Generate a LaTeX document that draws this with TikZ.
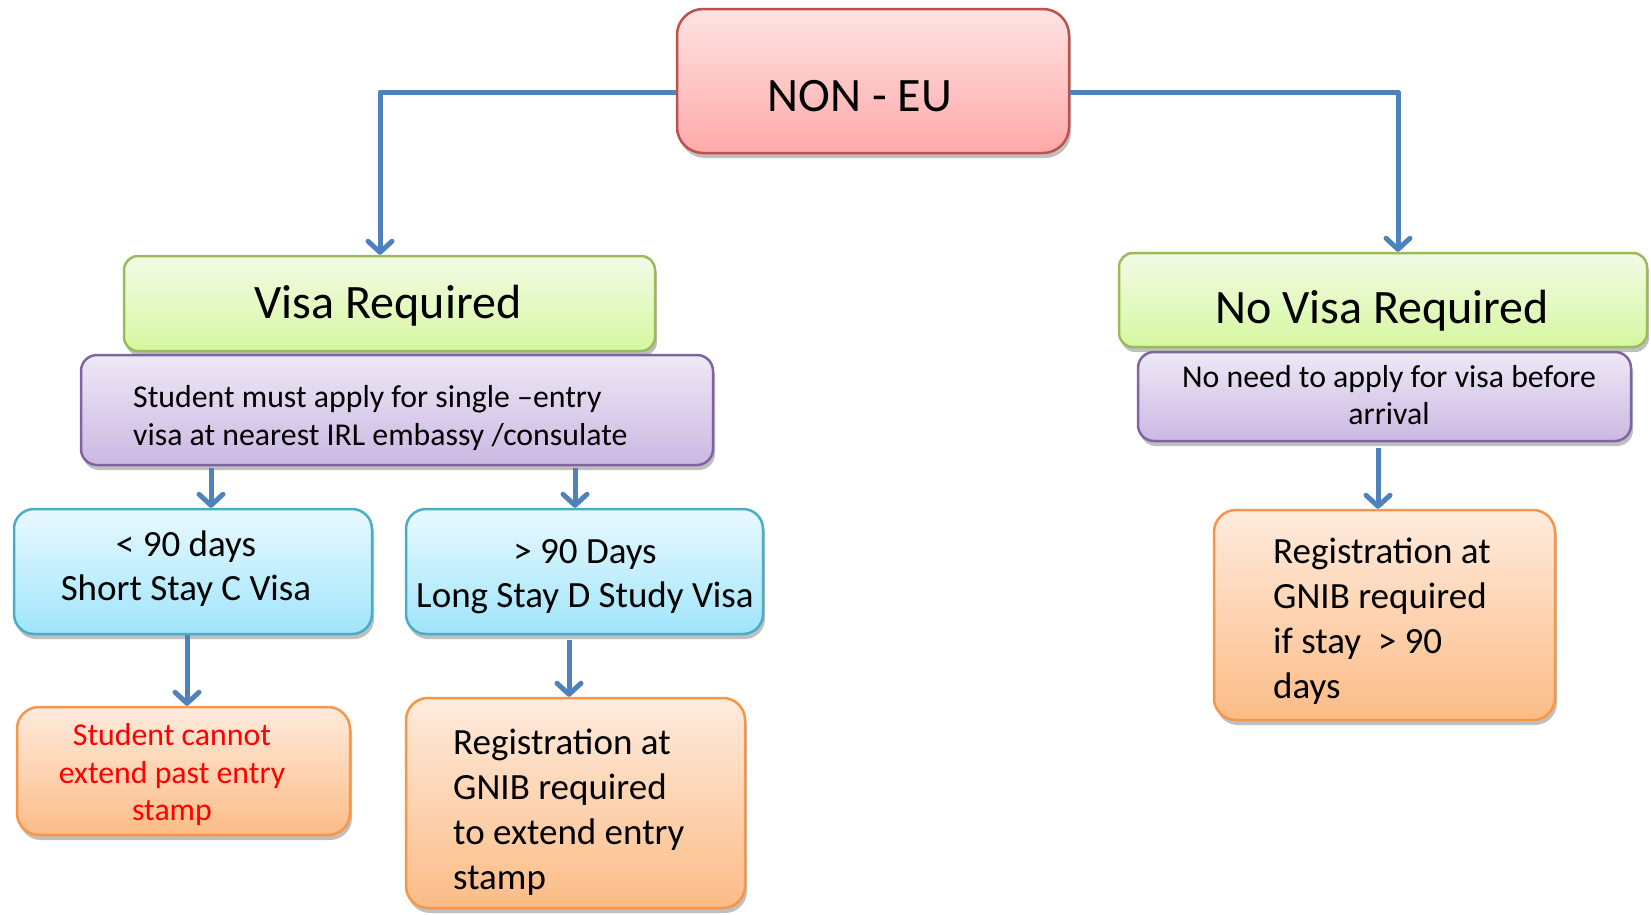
\documentclass[tikz,border=0pt]{standalone}
\usepackage{fontspec}
\setmainfont{Carlito}
\usetikzlibrary{arrows.meta,shadows}
\definecolor{arrowblue}{HTML}{4F81BD}
\definecolor{redB}{HTML}{C0504D}\definecolor{redT}{HTML}{FFE3E3}\definecolor{redD}{HTML}{FFA9A9}
\definecolor{grnB}{HTML}{9BBB59}\definecolor{grnT}{HTML}{F2FBE6}\definecolor{grnD}{HTML}{D6F7A0}
\definecolor{purB}{HTML}{8064A2}\definecolor{purT}{HTML}{EEE8F6}\definecolor{purD}{HTML}{CBB8E2}
\definecolor{bluB}{HTML}{4BACC6}\definecolor{bluT}{HTML}{E8F9FF}\definecolor{bluD}{HTML}{A0E5FB}
\definecolor{orgB}{HTML}{F79646}\definecolor{orgT}{HTML}{FFEBDD}\definecolor{orgD}{HTML}{FBBC86}
\begin{document}
\begin{tikzpicture}[x=1pt,y=-1pt,
  box/.style={rectangle, rounded corners=18pt, line width=2.5pt, inner sep=0pt,
    drop shadow={shadow xshift=2pt,shadow yshift=-5pt,opacity=0.25,fill=black}},
  redbox/.style={box, draw=redB, top color=redT, bottom color=redD, rounded corners=26pt},
  grnbox/.style={box, draw=grnB, top color=grnT, bottom color=grnD, rounded corners=14pt},
  purbox/.style={box, draw=purB, top color=purT, bottom color=purD, rounded corners=16pt},
  blubox/.style={box, draw=bluB, top color=bluT, bottom color=bluD, rounded corners=20pt},
  orgbox/.style={box, draw=orgB, top color=orgT, bottom color=orgD, rounded corners=22pt},
  arr/.style={draw=arrowblue, line width=5pt, line join=round,
    -{Straight Barb[length=11pt,width=24pt,round]}},
  big/.style={font=\fontsize{48}{57}\selectfont, inner sep=0pt},
  mid/.style={font=\fontsize{37}{44}\selectfont, inner sep=0pt, align=center},
  large/.style={font=\fontsize{37}{45}\selectfont, inner sep=0pt, align=left},
  small/.style={font=\fontsize{31.8}{37.5}\selectfont, inner sep=0pt}
]
\useasboundingbox (0,0) rectangle (1651,914);

% boxes
\node[redbox, minimum width=392pt, minimum height=144pt] (noneu) at (873,81) {};
\node[grnbox, minimum width=531pt, minimum height=95pt] (visa) at (389.5,303.5) {};
\node[purbox, minimum width=632pt, minimum height=110pt] (purL) at (397,410) {};
\node[grnbox, minimum width=528pt, minimum height=94pt] (novisa) at (1383,300) {};
\node[purbox, minimum width=493pt, minimum height=89pt] (purR) at (1384.5,396.5) {};
\node[blubox, minimum width=358pt, minimum height=125pt] (bluL) at (193,571.5) {};
\node[blubox, minimum width=357pt, minimum height=125pt] (bluR) at (584.5,571.5) {};
\node[orgbox, minimum width=333pt, minimum height=128pt] (orL) at (183.5,771) {};
\node[orgbox, minimum width=339pt, minimum height=210pt] (orM) at (575.5,803) {};
\node[orgbox, minimum width=341pt, minimum height=210pt] (orR) at (1384.5,615) {};

% texts
\node[big] (tnoneu) at (860,96) {NON - EU};
\node[big] (tvisa) at (388,306) {Visa Required};
\node[big] (tnovisa) at (1382,311) {No Visa Required};
\node[small, anchor=west, align=left] (tpurL) at (133,418) {Student must apply for single –entry\\visa at nearest IRL embassy /consulate};
\node[small, align=center] (tpurR) at (1389,395) {No need to apply for visa before\\arrival};
\node[mid] (tbluL) at (186,569) {< 90 days\\Short Stay C Visa};
\node[mid] (tbluR) at (585,577) {> 90 Days\\Long Stay D Study Visa};
\node[small, align=center, text=red] (torL) at (172,775) {Student cannot\\extend past entry\\stamp};
\node[large, anchor=west] (torM) at (453,812) {Registration at\\GNIB required\\to extend entry\\stamp};
\node[large, anchor=west] (torR) at (1273,621) {Registration at\\GNIB required\\if stay~~> 90\\days};

% connectors
\draw[arr] (noneu.west |- 0,92) -| (visa.north -| 380,0);
\draw[arr] (noneu.east |- 0,92) -| (novisa.north -| 1398,0);
\draw[arr] ([yshift=-2pt]purL.south -| 211,0) -- (bluL.north -| 211,0);
\draw[arr] ([yshift=-2pt]purL.south -| 575,0) -- (bluR.north -| 575,0);
\draw[arr] ([yshift=-6pt]purR.south -| 1378,0) -- (orR.north -| 1378,0);
\draw[arr] (bluL.south -| 187,0) -- (orL.north -| 187,0);
\draw[arr] ([yshift=-5pt]bluR.south -| 569,0) -- (orM.north -| 569,0);
\end{tikzpicture}
\end{document}
